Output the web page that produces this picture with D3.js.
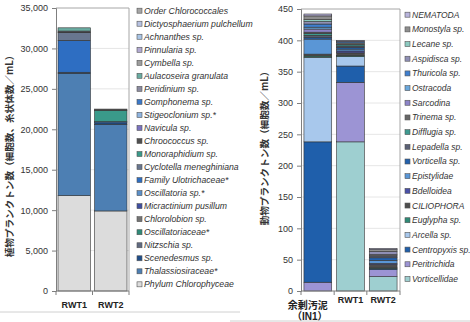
<!DOCTYPE html>
<html>
<head>
<meta charset="utf-8">
<script src="https://cdn.jsdelivr.net/npm/d3@7"></script>
<style>
  body { margin: 0; background: #fff; }
  svg { display: block; font-family: 'Liberation Sans', Arial, sans-serif; }
</style>
</head>
<body>
<svg id="chart" width="470" height="322"></svg>
<script>
// Phytoplankton (left chart) - legend order, top to bottom
const plantCategories = ['RWT1', 'RWT2'];
const plantSpecies = [
  'Order Chlorococcales', 'Dictyosphaerium pulchellum', 'Achnanthes sp.', 'Pinnularia sp.',
  'Cymbella sp.', 'Aulacoseira granulata', 'Peridinium sp.', 'Gomphonema sp.',
  'Stigeoclonium sp.*', 'Navicula sp.', 'Chroococcus sp.', 'Monoraphidium sp.',
  'Cyclotella meneghiniana', 'Family Ulotrichaceae*', 'Oscillatoria sp.*', 'Micractinium pusillum',
  'Chlorolobion sp.', 'Oscillatoriaceae*', 'Nitzschia sp.', 'Scenedesmus sp.',
  'Thalassiosiraceae*', 'Phylum Chlorophyceae'
];
const plantColors = [
  '#a6a6a6', '#b7c2e2', '#a9c5e6', '#b2aad2',
  '#9d9d9d', '#6aaca2', '#8b8ba0', '#3b78c8',
  '#8fb4e0', '#7b73c0', '#4f4f4f', '#3a9a8a',
  '#68768f', '#2e6ec2', '#5b8fc8', '#3f4ea0',
  '#747474', '#2f8a78', '#606a80', '#1f4e8a',
  '#4d7fb3', '#dcdcdc'
];
const plantRWT1 = [0, 0, 0, 0, 0, 400, 120, 0, 0, 0, 80, 0, 950, 3950, 0, 0, 0, 0, 0, 150, 15100, 11800];
const plantRWT2 = [0, 0, 0, 0, 0, 0, 0, 0, 0, 0, 150, 1400, 0, 150, 0, 0, 0, 0, 0, 200, 10700, 9900];
const plantTicks = [0, 5000, 10000, 15000, 20000, 25000, 30000, 35000];

// Zooplankton (right chart) - legend order, top to bottom
const animalCategories = ['余剰汚泥|（IN1）', 'RWT1', 'RWT2'];
const animalSpecies = [
  'NEMATODA', 'Monostyla sp.', 'Lecane sp.', 'Aspidisca sp.', 'Thuricola sp.',
  'Ostracoda', 'Sarcodina', 'Trinema sp.', 'Difflugia sp.', 'Lepadella sp.',
  'Vorticella sp.', 'Epistylidae', 'Bdelloidea', 'CILIOPHORA', 'Euglypha sp.',
  'Arcella sp.', 'Centropyxis sp.', 'Peritrichida', 'Vorticellidae'
];
const animalColors = [
  '#b8b4dc', '#8e8e8e', '#8ccac0', '#8f8fb5', '#3f7fcf',
  '#6aa7dc', '#8c84c8', '#666666', '#3d9a90', '#5a6075',
  '#2361ad', '#5a96d6', '#4a50a8', '#4d4d4d', '#2e8a76',
  '#a8c8ec', '#1f5fab', '#9c94d4', '#9ecfd0'
];
const animalIN1 = [3, 6, 3, 4, 5, 3, 5, 2, 3, 3, 3, 24, 0, 3, 2, 135, 224, 14, 0];
const animalRWT1 = [0, 0, 0, 2, 2, 0, 0, 3, 2, 2, 3, 3, 3, 4, 2, 15, 26, 95, 238];
const animalRWT2 = [2, 3, 0, 5, 0, 0, 0, 2, 0, 3, 4, 5, 2, 5, 1, 0, 2, 11, 23];
const animalTicks = [0, 50, 100, 150, 200, 250, 300, 350, 400, 450];

const svg = d3.select('#chart');

// frame lines of the two chart areas
svg.append('line').attr('x1', 0).attr('x2', 240).attr('y1', 312).attr('y2', 312)
  .attr('stroke', '#d0d0d0');
svg.append('line').attr('x1', 230).attr('x2', 470).attr('y1', 321).attr('y2', 321)
  .attr('stroke', '#d0d0d0');

const drawChart = ({
  categories, species, colors, rows, ticks, left, right, top, bottom,
  padInner, padOuter, title, titleX, titleY, labelY, labelDx = 0,
  legendX, legendY, legendStep, legendFont = 8.7,
}) => {
  const g = svg.append('g');
  const table = categories.map((c, i) => {
    const row = { cat: c };
    species.forEach((s, j) => { row[s] = rows[i][j]; });
    return row;
  });
  const keys = species.slice().reverse();
  const color = d3.scaleOrdinal().domain(species).range(colors);

  const x = d3.scaleBand().domain(categories).range([left, right])
    .paddingInner(padInner).paddingOuter(padOuter);
  const y = d3.scaleLinear().domain([0, d3.max(ticks)]).range([bottom, top]);

  // gridlines
  g.selectAll('.grid').data(ticks.slice(1, -1)).join('line')
    .attr('x1', left).attr('x2', right)
    .attr('y1', (d) => y(d)).attr('y2', (d) => y(d))
    .attr('stroke', '#e6e6e6');

  // plot area border (top / right)
  g.append('path')
    .attr('d', `M${left},${top}H${right}V${bottom}`)
    .attr('fill', 'none').attr('stroke', '#a6a6a6');

  const stacked = d3.stack().keys(keys)(table);
  g.selectAll('.layer').data(stacked).join('g')
    .attr('fill', (d) => color(d.key))
    .selectAll('rect')
    .data((d) => d.filter((p) => p[1] > p[0]))
    .join('rect')
    .attr('x', (d) => x(d.data.cat))
    .attr('width', x.bandwidth())
    .attr('y', (d) => y(d[1]))
    .attr('height', (d) => y(d[0]) - y(d[1]))
    .attr('stroke', '#333')
    .attr('stroke-width', 0.6);

  // y axis
  const yAxis = g.append('g')
    .attr('transform', `translate(${left},0)`)
    .call(d3.axisLeft(y).tickValues(ticks).tickFormat(d3.format(',')).tickSize(4).tickPadding(4));
  yAxis.select('.domain').attr('stroke', '#7f7f7f');
  yAxis.selectAll('.tick line').attr('stroke', '#7f7f7f');
  yAxis.selectAll('text').attr('font-size', 9).attr('fill', '#333')
    .attr('font-family', "'Liberation Sans', Arial, sans-serif");

  // x axis
  const xAxis = g.append('g').attr('transform', `translate(0,${bottom})`);
  xAxis.append('line').attr('x1', left).attr('x2', right).attr('stroke', '#7f7f7f');
  const bounds = categories.map((c) => x(c) - (x.step() * x.paddingInner()) / 2);
  bounds.push(right);
  bounds[0] = left;
  xAxis.selectAll('.xt').data(bounds).join('line')
    .attr('x1', (d) => d).attr('x2', (d) => d).attr('y1', 0).attr('y2', 4)
    .attr('stroke', '#7f7f7f');

  categories.forEach((c) => {
    const lines = c.split('|');
    const cx = x(c) + x.bandwidth() / 2 + (lines.length > 1 ? labelDx : 0);
    lines.forEach((t, k) => {
      g.append('text')
        .attr('x', cx + (k > 0 ? 2 : 0))
        .attr('y', (lines.length > 1 ? labelY + 6 : labelY) + k * 10.5)
        .attr('text-anchor', 'middle')
        .attr('font-size', lines.length > 1 ? 10 : 9)
        .attr('font-weight', 'bold')
        .attr('fill', '#222')
        .attr('font-family', "'Liberation Sans', 'Noto Sans CJK JP', sans-serif")
        .text(t);
    });
  });

  // y title
  g.append('text')
    .attr('transform', `translate(${titleX},${titleY}) rotate(-90)`)
    .attr('text-anchor', 'middle')
    .attr('dominant-baseline', 'central')
    .attr('font-size', 9.6)
    .attr('font-weight', 'bold')
    .attr('fill', '#333')
    .attr('font-family', "'Noto Sans CJK JP', sans-serif")
    .text(title);

  // legend
  const leg = g.selectAll('.leg').data(species).join('g')
    .attr('transform', (d, i) => `translate(${legendX},${legendY + i * legendStep})`);
  leg.append('rect')
    .attr('x', 0).attr('y', -2.5).attr('width', 5).attr('height', 5)
    .attr('fill', (d) => color(d)).attr('stroke', '#555').attr('stroke-width', 0.6);
  leg.append('text')
    .attr('x', 7).attr('y', 0).attr('dy', '0.35em')
    .attr('font-size', legendFont).attr('font-style', 'italic').attr('fill', '#333')
    .text((d) => d);
};

drawChart({
  categories: plantCategories,
  species: plantSpecies,
  colors: plantColors,
  rows: [plantRWT1, plantRWT2],
  ticks: plantTicks,
  left: 56, right: 129, top: 8, bottom: 291,
  padInner: 0.11, padOuter: 0.055,
  title: '植物プランクトン数（細胞数、糸状体数／mL）',
  titleX: 9, titleY: 154, labelY: 308,
  legendX: 137, legendY: 10.7, legendStep: 13.03,
});

drawChart({
  categories: animalCategories,
  species: animalSpecies,
  colors: animalColors,
  rows: [animalIN1, animalRWT1, animalRWT2],
  ticks: animalTicks,
  left: 301, right: 400, top: 9, bottom: 291,
  padInner: 0.15, padOuter: 0.09,
  title: '動物プランクトン数（細胞数／mL）',
  titleX: 264, titleY: 146, labelY: 303, labelDx: -10,
  legendX: 405, legendY: 14.7, legendStep: 14.68, legendFont: 8.5,
});
</script>
</body>
</html>
